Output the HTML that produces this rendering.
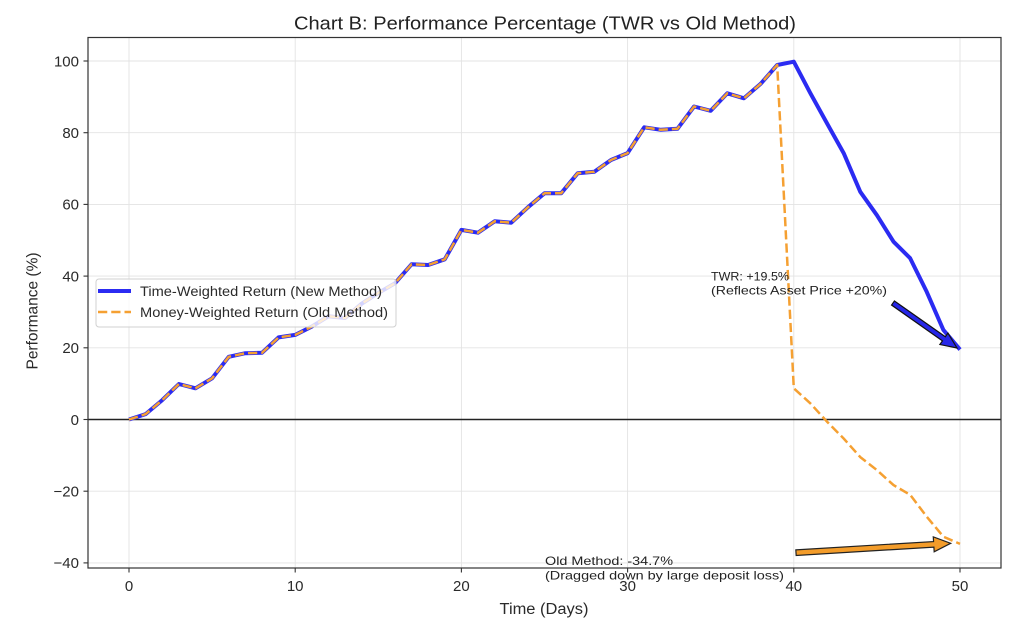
<!DOCTYPE html>
<html><head><meta charset="utf-8"><style>html,body{margin:0;padding:0;background:#fff;}svg{display:block;}</style></head>
<body>
<svg width="1024" height="632" viewBox="0 0 1024 632" xmlns="http://www.w3.org/2000/svg" font-family="Liberation Sans, DejaVu Sans, sans-serif">
<defs><clipPath id="pa"><rect x="88" y="37.5" width="913" height="530.5"/></clipPath></defs>
<rect width="1024" height="632" fill="#fff"/>
<!-- grid -->
<g stroke="#e3e3e3" stroke-width="0.9">
<line x1="129" y1="37.5" x2="129" y2="568"/><line x1="295.2" y1="37.5" x2="295.2" y2="568"/><line x1="461.4" y1="37.5" x2="461.4" y2="568"/><line x1="627.6" y1="37.5" x2="627.6" y2="568"/><line x1="793.8" y1="37.5" x2="793.8" y2="568"/><line x1="960" y1="37.5" x2="960" y2="568"/>
<line x1="88" y1="61" x2="1001" y2="61"/><line x1="88" y1="132.7" x2="1001" y2="132.7"/><line x1="88" y1="204.4" x2="1001" y2="204.4"/><line x1="88" y1="276.1" x2="1001" y2="276.1"/><line x1="88" y1="347.8" x2="1001" y2="347.8"/><line x1="88" y1="491.2" x2="1001" y2="491.2"/><line x1="88" y1="562.9" x2="1001" y2="562.9"/>
</g>
<!-- zero line -->
<line x1="88" y1="419.5" x2="1001" y2="419.5" stroke="#222" stroke-width="1.4"/>
<g clip-path="url(#pa)" fill="none" stroke-linejoin="round">
<polyline stroke="#2b2bf2" stroke-width="4" points="129,419.5 145.62,414.1 162.24,400.1 178.86,384 195.48,388.3 212.1,378.3 228.72,356.8 245.34,353.2 261.96,352.8 278.58,337.4 295.2,334.9 311.82,326.6 328.44,316.3 345.06,318 361.68,303.7 378.3,293 394.92,283.3 411.54,264.3 428.16,265 444.78,259.3 461.4,229.9 478.02,232.7 494.64,221.3 511.26,222.7 527.88,207.3 544.5,193.3 561.12,193.3 577.74,173.2 594.36,171.8 610.98,160 627.6,153.1 644.22,127.3 660.84,129.8 677.46,128.8 694.08,106.5 710.7,110.8 727.32,93.3 743.94,98.3 760.56,83.9 777.18,65 793.8,61.7 810.42,93.3 827.04,123.4 843.66,153.1 860.28,191.8 876.9,215.2 893.52,241.7 910.14,258.2 926.76,291.9 943.38,329.9 960,349.6"/>
<polyline stroke="#f5a032" stroke-width="2.5" stroke-dasharray="9.25 4" points="129,419.5 145.62,414.1 162.24,400.1 178.86,384 195.48,388.3 212.1,378.3 228.72,356.8 245.34,353.2 261.96,352.8 278.58,337.4 295.2,334.9 311.82,326.6 328.44,316.3 345.06,318 361.68,303.7 378.3,293 394.92,283.3 411.54,264.3 428.16,265 444.78,259.3 461.4,229.9 478.02,232.7 494.64,221.3 511.26,222.7 527.88,207.3 544.5,193.3 561.12,193.3 577.74,173.2 594.36,171.8 610.98,160 627.6,153.1 644.22,127.3 660.84,129.8 677.46,128.8 694.08,106.5 710.7,110.8 727.32,93.3 743.94,98.3 760.56,83.9 777.18,65 793.8,388.3 810.42,403.4 827.04,421.7 843.66,438.5 860.28,457.1 876.9,470.1 893.52,485.1 910.14,494.8 926.76,516.7 943.38,536.7 960,543.9"/>
</g>
<!-- annotations -->
<polygon fill="#2626e8" stroke="#111" stroke-width="1.2" stroke-linejoin="miter" points="894.44,300.95 945.34,336.75 947.93,333.07 957,348 939.88,344.53 942.46,340.85 891.56,305.05"/>
<polygon fill="#f39c2a" stroke="#222" stroke-width="1.2" points="795.83,549.91 933.56,541.54 933.28,536.84 950.7,543.3 934.18,551.82 933.9,547.12 796.17,555.49"/>
<g font-size="12" fill="#222">
<text x="711" y="280.5" textLength="78" lengthAdjust="spacingAndGlyphs">TWR: +19.5%</text>
<text x="711" y="294.5" textLength="176" lengthAdjust="spacingAndGlyphs">(Reflects Asset Price +20%)</text>
<text x="545" y="565" textLength="128" lengthAdjust="spacingAndGlyphs">Old Method: -34.7%</text>
<text x="545" y="579.5" textLength="239" lengthAdjust="spacingAndGlyphs">(Dragged down by large deposit loss)</text>
</g>
<!-- legend -->
<rect x="96" y="279" width="300" height="48" rx="3" ry="3" fill="#fff" fill-opacity="0.8" stroke="#d0d0d0" stroke-width="1"/>
<line x1="98" y1="291" x2="131" y2="291" stroke="#2b2bf2" stroke-width="4"/>
<line x1="98" y1="312" x2="131" y2="312" stroke="#f5a032" stroke-width="2.5" stroke-dasharray="9.25 4"/>
<g font-size="13.5" fill="#2a2a2a">
<text x="140" y="296" textLength="242" lengthAdjust="spacingAndGlyphs">Time-Weighted Return (New Method)</text>
<text x="140" y="317" textLength="248" lengthAdjust="spacingAndGlyphs">Money-Weighted Return (Old Method)</text>
</g>
<!-- spines -->
<rect x="88" y="37.5" width="913" height="530.5" fill="none" stroke="#333" stroke-width="1.2"/>
<!-- ticks -->
<g stroke="#333" stroke-width="1.1">
<line x1="83.5" y1="61" x2="88" y2="61"/><line x1="83.5" y1="132.7" x2="88" y2="132.7"/><line x1="83.5" y1="204.4" x2="88" y2="204.4"/><line x1="83.5" y1="276.1" x2="88" y2="276.1"/><line x1="83.5" y1="347.8" x2="88" y2="347.8"/><line x1="83.5" y1="419.5" x2="88" y2="419.5"/><line x1="83.5" y1="491.2" x2="88" y2="491.2"/><line x1="83.5" y1="562.9" x2="88" y2="562.9"/>
<line x1="129" y1="568" x2="129" y2="572.5"/><line x1="295.2" y1="568" x2="295.2" y2="572.5"/><line x1="461.4" y1="568" x2="461.4" y2="572.5"/><line x1="627.6" y1="568" x2="627.6" y2="572.5"/><line x1="793.8" y1="568" x2="793.8" y2="572.5"/><line x1="960" y1="568" x2="960" y2="572.5"/>
</g>
<g font-size="15" fill="#2a2a2a" text-anchor="end">
<text x="79" y="66.3">100</text><text x="79" y="138">80</text><text x="79" y="209.7">60</text><text x="79" y="281.4">40</text><text x="79" y="353.1">20</text><text x="79" y="424.8">0</text><text x="79" y="496.5">−20</text><text x="79" y="568.2">−40</text>
</g>
<g font-size="15" fill="#2a2a2a" text-anchor="middle">
<text x="129" y="591">0</text><text x="295.2" y="591">10</text><text x="461.4" y="591">20</text><text x="627.6" y="591">30</text><text x="793.8" y="591">40</text><text x="960" y="591">50</text>
</g>
<text x="544" y="614" font-size="15.5" fill="#2a2a2a" text-anchor="middle" textLength="89" lengthAdjust="spacingAndGlyphs">Time (Days)</text>
<text transform="translate(37.5,311) rotate(-90)" font-size="15.5" fill="#2a2a2a" text-anchor="middle" textLength="117" lengthAdjust="spacingAndGlyphs">Performance (%)</text>
<text x="294" y="29.5" font-size="18.5" fill="#222" textLength="502" lengthAdjust="spacingAndGlyphs">Chart B: Performance Percentage (TWR vs Old Method)</text>
</svg>
</body></html>
